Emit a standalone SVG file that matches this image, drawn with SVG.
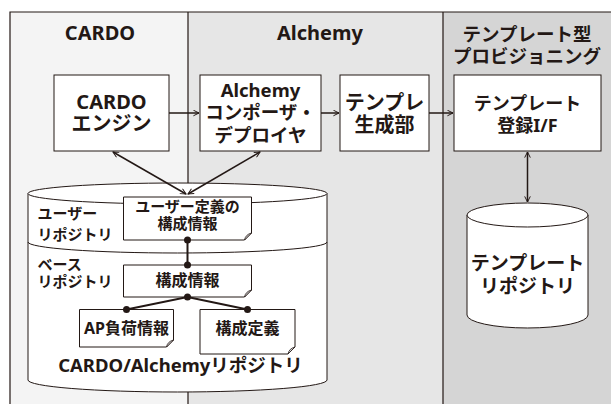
<svg xmlns="http://www.w3.org/2000/svg" width="611" height="404" viewBox="0 0 611 404">
<defs>
<style>
text{font-family:"Noto Sans","Noto Sans CJK JP",sans-serif;font-weight:700;fill:#231815;text-anchor:middle}
.box{fill:#fff;stroke:#231815;stroke-width:1}
.frame{fill:none;stroke:#231815;stroke-width:1.2}
.con{fill:none;stroke:#231815;stroke-width:1.5}
.dot{fill:#231815}
.fold{fill:#ddd;stroke:#231815;stroke-width:0.8}
.h{font-size:20px}
.hj{font-size:18.5px}
.b{font-size:20px}
.s{font-size:15px}
.l{text-anchor:start}
</style>
<marker id="ah" viewBox="0 0 10 10" refX="9" refY="5" markerWidth="7" markerHeight="7" markerUnits="userSpaceOnUse" orient="auto-start-reverse">
<path d="M1,1 L9,5 L1,9" fill="none" stroke="#231815" stroke-width="1.4"/>
</marker>
</defs>
<rect width="611" height="404" fill="#fff"/>
<g id="columns">
<rect x="10" y="12" width="178" height="392" fill="#f4f4f4"/>
<rect x="188" y="12" width="255" height="392" fill="#e6e6e6"/>
<rect x="443" y="12" width="168" height="392" fill="#d5d5d5"/>
<path class="frame" d="M10,404 V12 H611 M188,12 V404 M443,12 V404"/>
<text class="h" x="100" y="40">CARDO</text>
<text class="h" x="320" y="40">Alchemy</text>
<text class="hj" x="527" y="41">テンプレート型</text>
<text class="hj" x="527" y="63">プロビジョニング</text>
</g>
<g id="cardo-engine">
<rect class="box" x="54" y="75" width="115" height="76"/>
<text class="b" x="111.5" y="109">CARDO</text>
<text class="b" x="111.5" y="131">エンジン</text>
</g>
<g id="alchemy-composer">
<rect class="box" x="200" y="75" width="121" height="76"/>
<text x="260.5" y="97" style="font-size:18.5px">Alchemy</text>
<text x="260.5" y="119" style="font-size:18.5px">コンポーザ・</text>
<text x="260.5" y="142" style="font-size:18.5px">デプロイヤ</text>
</g>
<g id="template-gen">
<rect class="box" x="340" y="75" width="89" height="76"/>
<text class="b" x="384.5" y="110">テンプレ</text>
<text class="b" x="384.5" y="132">生成部</text>
</g>
<g id="template-reg">
<rect class="box" x="454" y="75" width="147" height="76"/>
<text x="527.5" y="110" style="font-size:18px">テンプレート</text>
<text x="527.5" y="132" style="font-size:18px">登録I/F</text>
</g>
<g id="template-repo">
<path class="box" d="M467,215 V315 A60.5,13 0 0 0 588,315 V215"/>
<ellipse class="box" cx="527.5" cy="215" rx="60.5" ry="12"/>
<text x="527.5" y="270" style="font-size:19px">テンプレート</text>
<text x="527.5" y="293" style="font-size:19px">リポジトリ</text>
</g>
<g id="cardo-alchemy-repo">
<path class="box" d="M28,193.5 V380 A149.5,12 0 0 0 327,380 V193.5"/>
<ellipse class="box" cx="177.5" cy="193.5" rx="149.5" ry="10.5"/>
<path class="con" style="stroke-width:1" d="M28,242 A149.5,11 0 0 0 327,242"/>
<text class="s l" x="37.5" y="219">ユーザー</text>
<text class="s l" x="37.5" y="240">リポジトリ</text>
<text class="s l" x="37.5" y="270">ベース</text>
<text class="s l" x="37.5" y="287">リポジトリ</text>
<text x="180.5" y="372" style="font-size:18.5px">CARDO/Alchemyリポジトリ</text>
</g>
<g id="user-config">
<path class="box" d="M123.5,197 H251.5 V233 L244.5,240 H123.5 Z"/>
<path class="fold" d="M251.5,233 L244.5,240 Q245.5,234.5 251.5,233 Z"/>
<text class="s" x="187.5" y="212">ユーザー定義の</text>
<text class="s" x="187.5" y="229">構成情報</text>
</g>
<g id="base-config">
<path class="box" d="M123.5,265 H251.5 V290 L244.5,297 H123.5 Z"/>
<path class="fold" d="M251.5,290 L244.5,297 Q245.5,291.5 251.5,290 Z"/>
<text x="187.5" y="286" style="font-size:16px">構成情報</text>
</g>
<g id="ap-load">
<path class="box" d="M79.5,309.5 H173.5 V340 L166.5,347 H79.5 Z"/>
<path class="fold" d="M173.5,340 L166.5,347 Q167.5,341.5 173.5,340 Z"/>
<text x="126.5" y="334" style="font-size:16px">AP負荷情報</text>
</g>
<g id="config-def">
<path class="box" d="M200,309.5 H295 V347 L288,354 H200 Z"/>
<path class="fold" d="M295,347 L288,354 Q289,348.5 295,347 Z"/>
<text x="247.5" y="334" style="font-size:16px">構成定義</text>
</g>
<g id="connectors">
<line class="con" x1="169" y1="113" x2="199" y2="113" marker-end="url(#ah)"/>
<line class="con" x1="321" y1="113" x2="339" y2="113" marker-end="url(#ah)"/>
<line class="con" x1="429" y1="113" x2="453" y2="113" marker-end="url(#ah)"/>
<line class="con" x1="113" y1="152" x2="186" y2="194" marker-start="url(#ah)" marker-end="url(#ah)"/>
<line class="con" x1="260" y1="152" x2="188" y2="194" marker-start="url(#ah)" marker-end="url(#ah)"/>
<line class="con" x1="527.5" y1="152" x2="527.5" y2="202" marker-start="url(#ah)" marker-end="url(#ah)"/>
<path class="con" style="stroke-width:2" d="M187.5,240 V265 M126.5,309.5 L187.5,297 L247.5,309.5"/>
<circle class="dot" cx="187.5" cy="240" r="3.5"/>
<circle class="dot" cx="187.5" cy="265" r="3.5"/>
<circle class="dot" cx="187.5" cy="297" r="3.5"/>
<circle class="dot" cx="126.5" cy="309.5" r="3.5"/>
<circle class="dot" cx="247.5" cy="309.5" r="3.5"/>
</g>
</svg>
